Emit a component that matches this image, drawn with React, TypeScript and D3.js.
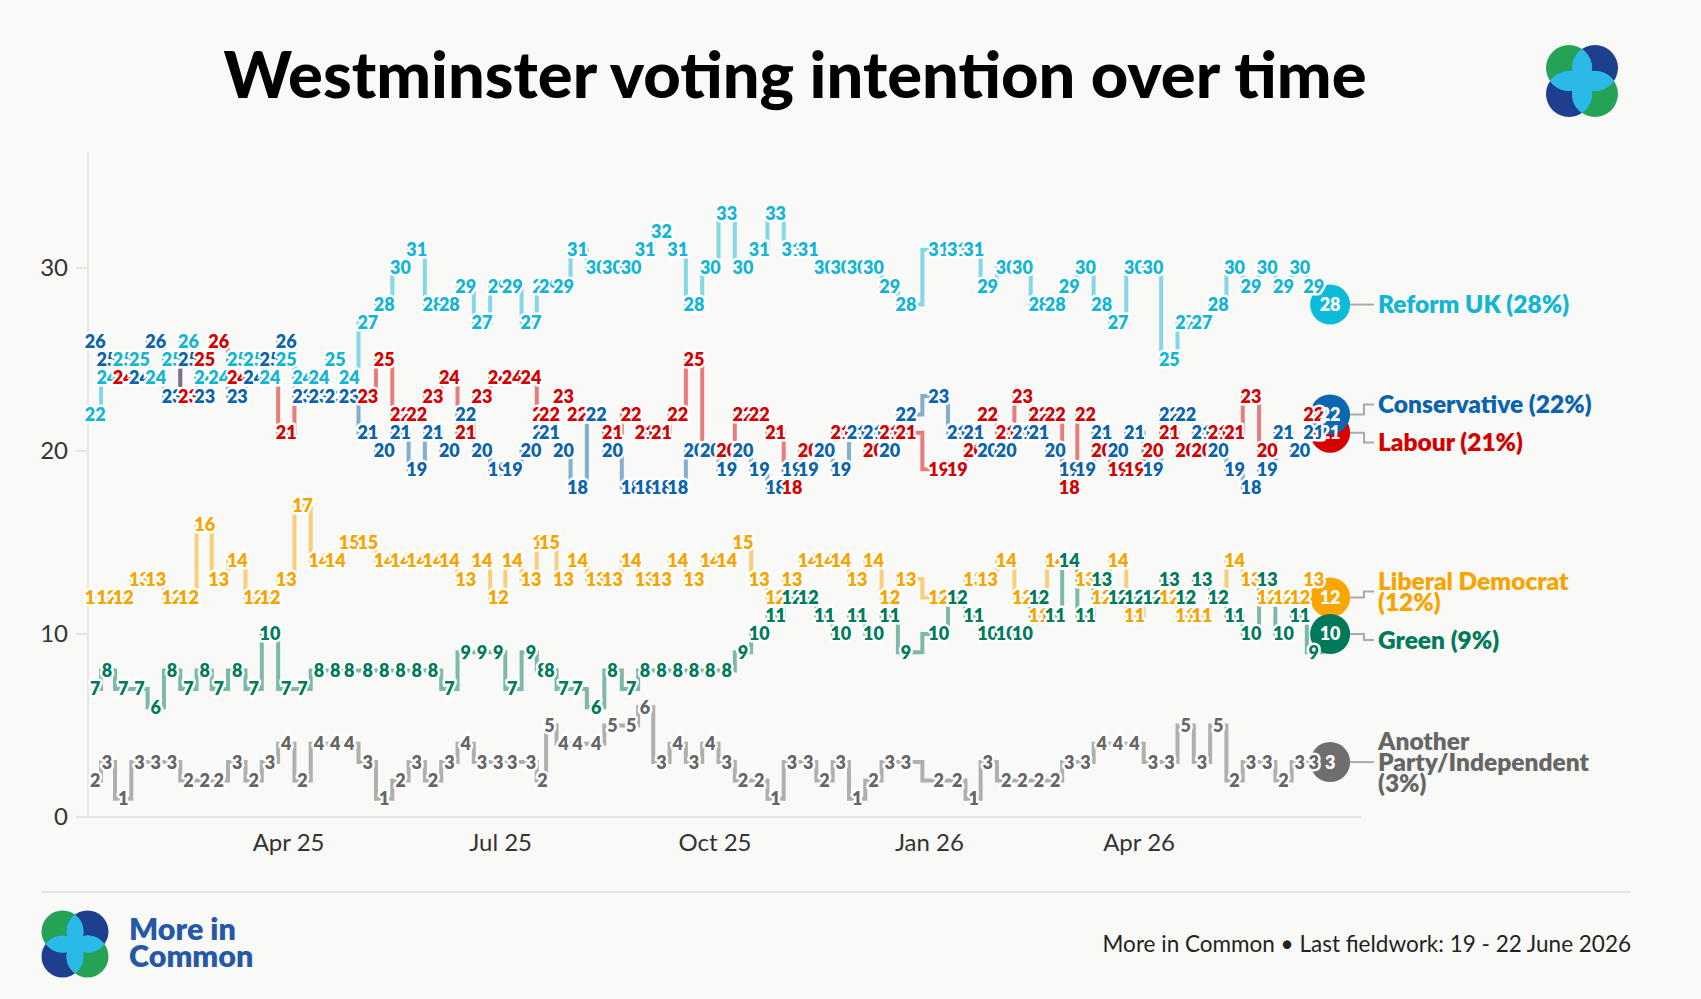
import React, { useEffect, useRef } from 'react';
import * as d3 from 'd3';

// fieldwork end dates, one per poll
const pollDates = [
	'2025-01-08', '2025-01-13', '2025-01-20', '2025-01-27', '2025-02-03', '2025-02-10', '2025-02-17',
	'2025-02-24', '2025-03-02', '2025-03-10', '2025-03-17', '2025-03-24', '2025-03-31', '2025-04-07',
	'2025-04-14', '2025-04-21', '2025-04-27', '2025-05-05', '2025-05-12', '2025-05-19', '2025-05-26',
	'2025-06-02', '2025-06-09', '2025-06-16', '2025-06-23', '2025-06-30', '2025-07-06', '2025-07-14',
	'2025-07-19', '2025-07-22', '2025-07-28', '2025-08-03', '2025-08-11', '2025-08-18', '2025-08-26',
	'2025-09-01', '2025-09-08', '2025-09-15', '2025-09-22', '2025-09-29', '2025-10-06', '2025-10-13',
	'2025-10-20', '2025-10-27', '2025-11-03', '2025-11-10', '2025-11-17', '2025-11-24', '2025-12-01',
	'2025-12-08', '2025-12-15', '2025-12-22', '2026-01-05', '2026-01-13', '2026-01-20', '2026-01-26',
	'2026-02-03', '2026-02-10', '2026-02-17', '2026-02-24', '2026-03-02', '2026-03-09', '2026-03-16',
	'2026-03-23', '2026-03-30', '2026-04-07', '2026-04-14', '2026-04-21', '2026-04-28', '2026-05-05',
	'2026-05-12', '2026-05-19', '2026-05-26', '2026-06-02', '2026-06-09', '2026-06-15', '2026-06-22',
];

const reformUK = [
	22, 24, 25, 25, 24, 25, 26, 24, 24, 25, 25, 24, 25, 24, 24, 25, 24, 27, 28, 30, 31, 28, 28, 29, 27, 29,
	29, 27, 29, 29, 29, 31, 30, 30, 30, 31, 32, 31, 28, 30, 33, 30, 31, 33, 31, 31, 30, 30, 30, 30, 29, 28,
	31, 31, 31, 29, 30, 30, 28, 28, 29, 30, 28, 27, 30, 30, 25, 27, 27, 28, 30, 29, 30, 29, 30, 29, 28,
];
const conservative = [
	26, 25, 25, 24, 26, 23, 25, 23, 24, 23, 24, 25, 26, 23, 23, 23, 23, 21, 20, 21, 19, 21, 20, 22, 20, 19,
	19, 20, 21, 21, 20, 18, 22, 20, 18, 18, 18, 18, 20, 20, 19, 20, 19, 18, 19, 19, 20, 19, 21, 21, 20, 22,
	23, 21, 21, 20, 20, 21, 21, 20, 19, 19, 21, 20, 21, 19, 22, 22, 21, 20, 19, 18, 19, 21, 20, 21, 22,
];
const labour = [
	26, 25, 24, 24, 24, 25, 23, 25, 26, 24, 24, 24, 21, 23, 23, 23, 23, 23, 25, 22, 22, 23, 24, 21, 23, 24,
	24, 24, 22, 22, 23, 22, 22, 21, 22, 21, 21, 22, 25, 20, 20, 22, 22, 21, 18, 20, 20, 21, 21, 20, 21, 21,
	19, 19, 20, 22, 21, 23, 22, 22, 18, 22, 20, 19, 19, 20, 21, 20, 20, 21, 21, 23, 20, 21, 20, 22, 21,
];
const libDem = [
	12, 12, 12, 13, 13, 12, 12, 16, 13, 14, 12, 12, 13, 17, 14, 14, 15, 15, 14, 14, 14, 14, 14, 13, 14, 12,
	14, 13, 15, 15, 13, 14, 13, 13, 14, 13, 13, 14, 13, 14, 14, 15, 13, 12, 13, 14, 14, 14, 13, 14, 12, 13,
	12, 12, 13, 13, 14, 12, 11, 14, 14, 13, 12, 14, 11, 12, 12, 11, 11, 12, 14, 13, 12, 12, 12, 13, 12,
];
const green = [
	7, 8, 7, 7, 6, 8, 7, 8, 7, 8, 7, 10, 7, 7, 8, 8, 8, 8, 8, 8, 8, 8, 7, 9, 9, 9,
	7, 9, 8, 8, 7, 7, 6, 8, 7, 8, 8, 8, 8, 8, 8, 9, 10, 11, 12, 12, 11, 10, 11, 10, 11, 9,
	10, 12, 11, 10, 10, 10, 12, 11, 14, 11, 13, 12, 12, 12, 13, 12, 13, 12, 11, 10, 13, 10, 11, 9, 10,
];
const otherParty = [
	2, 3, 1, 3, 3, 3, 2, 2, 2, 3, 2, 3, 4, 2, 4, 4, 4, 3, 1, 2, 3, 2, 3, 4, 3, 3,
	3, 3, 2, 5, 4, 4, 4, 5, 5, 6, 3, 4, 3, 4, 3, 2, 2, 1, 3, 3, 2, 3, 1, 2, 3, 3,
	2, 2, 1, 3, 2, 2, 2, 2, 3, 3, 4, 4, 4, 3, 3, 5, 3, 5, 2, 3, 3, 2, 3, 3, 3,
];

// drawing order of the labels: later parties sit on top
const partyNames = ['Labour', 'Conservative', 'Reform UK', 'Liberal Democrat', 'Green', 'Another Party/Independent'];
const legendLabels = [
	'Labour (21%)',
	'Conservative (22%)',
	'Reform UK (28%)',
	'Liberal Democrat\n(12%)',
	'Green (9%)',
	'Another\nParty/Independent\n(3%)',
];
const yTicks = [0, 10, 20, 30];
const xTickDates = ['2025-04-01', '2025-07-01', '2025-10-01', '2026-01-01', '2026-04-01'];

const BG = '#f9f9f7';
const FONT = 'Lato, "Noto Sans", sans-serif';

const styles: Record<string, { text: string; dot: string }> = {
	'Reform UK': { text: '#14b5d4', dot: '#0bbcd8' },
	Labour: { text: '#d40000', dot: '#d60000' },
	Conservative: { text: '#0b63ad', dot: '#0a67b0' },
	'Liberal Democrat': { text: '#f7a400', dot: '#fba600' },
	Green: { text: '#007a5a', dot: '#00795a' },
	'Another Party/Independent': { text: '#666666', dot: '#6e6e6e' },
};

function drawLogo(
	g: d3.Selection<SVGGElement, unknown, null, undefined>,
	id: string,
	cx: number,
	cy: number,
	r: number,
	off: number,
) {
	const circles = [
		{ dx: -off, dy: -off, c: '#24a357' },
		{ dx: off, dy: -off, c: '#1d3f8e' },
		{ dx: -off, dy: off, c: '#1d3f8e' },
		{ dx: off, dy: off, c: '#24a357' },
	];
	const defs = g.append('defs');
	circles.forEach((c, i) => {
		defs
			.append('clipPath')
			.attr('id', `${id}-c${i}`)
			.append('circle')
			.attr('cx', cx + c.dx)
			.attr('cy', cy + c.dy)
			.attr('r', r);
	});
	circles.forEach((c) => {
		g.append('circle').attr('cx', cx + c.dx).attr('cy', cy + c.dy).attr('r', r).attr('fill', c.c);
	});
	for (let i = 0; i < 4; i++) {
		for (let j = 0; j < 4; j++) {
			if (i === j) continue;
			g.append('circle')
				.attr('cx', cx + circles[i].dx)
				.attr('cy', cy + circles[i].dy)
				.attr('r', r)
				.attr('fill', '#2bb9e8')
				.attr('clip-path', `url(#${id}-c${j})`);
		}
	}
}

const VotingChart: React.FC = () => {
	const svgRef = useRef<SVGSVGElement | null>(null);

	useEffect(() => {
		if (!svgRef.current) return;
		document.body.style.margin = '0';
		document.body.style.background = BG;

		const width = 1701;
		const height = 999;
		const parse = d3.timeParse('%Y-%m-%d');
		const dates = pollDates.map((d) => parse(d) as Date);

		const valuesByParty: Record<string, number[]> = {
			'Reform UK': reformUK,
			Labour: labour,
			Conservative: conservative,
			'Liberal Democrat': libDem,
			Green: green,
			'Another Party/Independent': otherParty,
		};
		const series = partyNames.map((name, k) => ({
			name,
			values: valuesByParty[name],
			legend: legendLabels[k],
			...styles[name],
		}));

		const x = d3
			.scaleTime()
			.domain([new Date(2025, 0, 1), new Date(2026, 6, 1)])
			.range([78.9, 1351.1]);
		const y = d3.scaleLinear().domain([0, 30]).range([817, 268]);

		const svg = d3.select(svgRef.current);
		svg.selectAll('*').remove();
		svg
			.attr('width', width)
			.attr('height', height)
			.attr('viewBox', [0, 0, width, height])
			.style('display', 'block')
			.style('font-family', FONT);

		svg.append('rect').attr('width', width).attr('height', height).attr('fill', BG);

		// title
		svg
			.append('text')
			.attr('x', 795)
			.attr('y', 98)
			.attr('text-anchor', 'middle')
			.attr('font-size', 65)
			.attr('font-weight', 900)
			.attr('fill', '#000')
			.text('Westminster voting intention over time');

		drawLogo(svg.append('g'), 'logoTop', 1582, 81, 23, 13);

		// axes
		const axis = svg.append('g');
		axis
			.append('line')
			.attr('x1', 88)
			.attr('x2', 88)
			.attr('y1', 152)
			.attr('y2', y(0))
			.attr('stroke', '#e6e6e4')
			.attr('stroke-width', 2);
		axis
			.append('line')
			.attr('x1', 76)
			.attr('x2', 1361)
			.attr('y1', y(0))
			.attr('y2', y(0))
			.attr('stroke', '#e6e6e4')
			.attr('stroke-width', 2);
		yTicks.forEach((t) => {
			axis
				.append('line')
				.attr('x1', 76)
				.attr('x2', 88)
				.attr('y1', y(t))
				.attr('y2', y(t))
				.attr('stroke', '#e6e6e4')
				.attr('stroke-width', 2);
			axis
				.append('text')
				.attr('x', 68)
				.attr('y', y(t))
				.attr('dy', '0.35em')
				.attr('text-anchor', 'end')
				.attr('font-size', 24)
				.attr('fill', '#333')
				.text(t);
		});
		const fmt = d3.timeFormat('%b %y');
		xTickDates.forEach((d) => {
			const dt = parse(d) as Date;
			axis
				.append('text')
				.attr('x', x(dt))
				.attr('y', 851)
				.attr('text-anchor', 'middle')
				.attr('font-size', 24)
				.attr('fill', '#333')
				.text(fmt(dt));
		});

		// step lines
		const line = d3
			.line<number>()
			.x((_, i) => x(dates[i]))
			.y((v) => y(v))
			.curve(d3.curveStep);
		svg
			.append('g')
			.selectAll('path')
			.data(series)
			.join('path')
			.attr('d', (s) => line(s.values))
			.attr('fill', 'none')
			.attr('stroke', (s) => s.text)
			.attr('stroke-opacity', 0.5)
			.attr('stroke-width', 4);

		const last = dates.length - 1;

		// end circles
		svg
			.append('g')
			.selectAll('circle')
			.data(series)
			.join('circle')
			.attr('cx', x(dates[last]))
			.attr('cy', (s) => y(s.values[last]))
			.attr('r', 20)
			.attr('fill', (s) => s.dot);

		// value labels, poll by poll
		const labelG = svg
			.append('g')
			.attr('font-size', 18)
			.attr('font-weight', 800)
			.attr('text-anchor', 'middle');
		dates.forEach((d, i) => {
			series.forEach((s) => {
				const t = labelG
					.append('text')
					.attr('x', x(d))
					.attr('y', y(s.values[i]))
					.attr('dy', '0.36em')
					.text(s.values[i]);
				if (i === last) {
					t.attr('fill', '#fff');
				} else {
					t.attr('fill', s.text)
						.attr('stroke', '#fff')
						.attr('stroke-width', 5)
						.attr('stroke-linejoin', 'round')
						.attr('paint-order', 'stroke');
				}
			});
		});

		// legend with simple dodge
		const lineH = 21;
		const items = series
			.map((s) => {
				const lines = s.legend.split('\n');
				const target = y(s.values[last]);
				return { s, lines, target, pos: target, h: lines.length * lineH };
			})
			.sort((a, b) => a.target - b.target);
		for (let it = 0; it < 100; it++) {
			for (let k = 0; k < items.length - 1; k++) {
				const a = items[k];
				const b = items[k + 1];
				const need = (a.h + b.h) / 2 + 17;
				const gap = b.pos - a.pos;
				if (gap < need) {
					const push = (need - gap) / 2;
					a.pos -= push;
					b.pos += push;
				}
			}
		}
		const cx = x(dates[last]);
		const legendG = svg.append('g');
		items.forEach((item) => {
			legendG
				.append('path')
				.attr('d', `M${cx + 20},${item.target}H1364V${item.pos}H1374`)
				.attr('fill', 'none')
				.attr('stroke', '#aaa')
				.attr('stroke-width', 2);
			const txt = legendG
				.append('text')
				.attr('font-size', 24.5)
				.attr('font-weight', 800)
				.attr('fill', item.s.text);
			item.lines.forEach((l, k) => {
				txt
					.append('tspan')
					.attr('x', 1378)
					.attr('y', item.pos + (k - (item.lines.length - 1) / 2) * lineH)
					.attr('dy', '0.35em')
					.text(l);
			});
		});

		// footer
		svg
			.append('line')
			.attr('x1', 41)
			.attr('x2', 1631)
			.attr('y1', 892)
			.attr('y2', 892)
			.attr('stroke', '#dddddb')
			.attr('stroke-width', 1.5);
		drawLogo(svg.append('g'), 'logoFoot', 75, 944, 21, 12.5);
		const brand = svg
			.append('text')
			.attr('font-size', 30.5)
			.attr('font-weight', 800)
			.attr('fill', '#2558a6');
		brand.append('tspan').attr('x', 129).attr('y', 940).text('More in');
		brand.append('tspan').attr('x', 129).attr('y', 967).text('Common');
		svg
			.append('text')
			.attr('x', 1631)
			.attr('y', 952)
			.attr('text-anchor', 'end')
			.attr('font-size', 22.5)
			.attr('fill', '#222')
			.text('More in Common • Last fieldwork: 19 - 22 June 2026');
	}, []);

	return <svg ref={svgRef}></svg>;
};

export default function App() {
	return <VotingChart />;
}
